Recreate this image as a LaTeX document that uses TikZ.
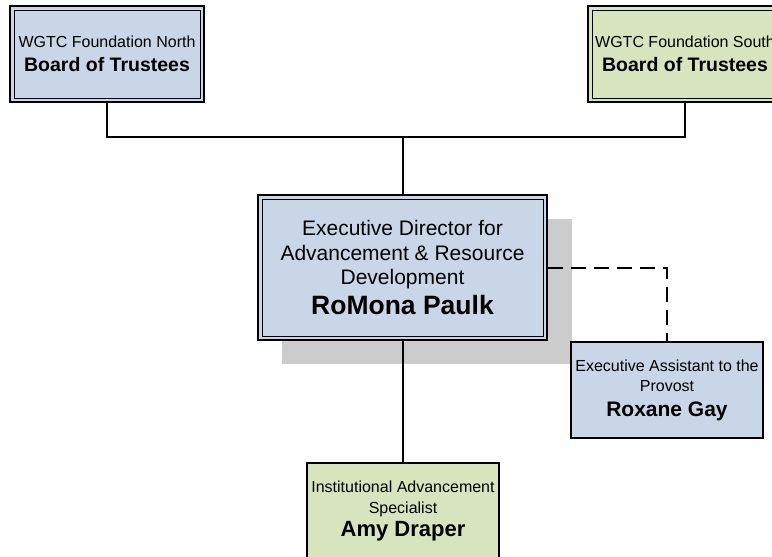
\documentclass[tikz,border=0pt]{standalone}
\usepackage{fontspec}
\setmainfont{Liberation Sans}
\definecolor{boxblue}{RGB}{201,214,231}
\definecolor{boxgreen}{RGB}{215,228,189}
\definecolor{shadowgray}{RGB}{204,204,204}
\tikzset{
  orgbox/.style={draw=black, line width=2pt, align=center, inner sep=0pt, text=black},
  dblbox/.style={orgbox, minimum width=194pt, minimum height=96pt},
  smbox/.style={orgbox, minimum width=192pt, minimum height=96pt},
  conn/.style={draw=black, line width=1.5pt},
  vconn/.style={draw=black, line width=2pt},
  dconn/.style={draw=black, line width=2pt, dash pattern=on 15pt off 8pt},
  inner/.style={draw=black, line width=1pt}
}
\begin{document}
\begin{tikzpicture}[x=1pt,y=-1pt]
\useasboundingbox (0,0) rectangle (772,557);
\clip (0,0) rectangle (772,557);
% shadow
\fill[shadowgray] (282,219) rectangle (572,364);
% boxes
\node[dblbox, fill=boxblue, font=\fontsize{16}{19}\selectfont] (north) at (107,54)
  {WGTC Foundation North\\[5pt]{\fontsize{19.5}{19.5}\selectfont\bfseries Board of Trustees}};
\draw[inner] ([shift={(5pt,-5pt)}]north.north west) rectangle ([shift={(-5pt,5pt)}]north.south east);
\node[dblbox, fill=boxgreen, font=\fontsize{16}{19}\selectfont] (south) at (685,54)
  {WGTC Foundation South\\[5pt]{\fontsize{19.5}{19.5}\selectfont\bfseries Board of Trustees}};
\draw[inner] ([shift={(5pt,-5pt)}]south.north west) rectangle ([shift={(-5pt,5pt)}]south.south east);
\node[orgbox, fill=boxblue, minimum width=289pt, minimum height=145pt, font=\fontsize{21}{24.5}\selectfont] (dir) at (402.5,267.5)
  {Executive Director for\\Advancement \& Resource\\Development\\[5pt]{\fontsize{26.5}{26.5}\selectfont\bfseries RoMona Paulk}};
\draw[inner] ([shift={(5pt,-5pt)}]dir.north west) rectangle ([shift={(-5pt,5pt)}]dir.south east);
\node[smbox, fill=boxblue, font=\fontsize{16}{20}\selectfont] (asst) at (667,390)
  {Executive Assistant to the\\Provost\\[5pt]{\fontsize{21}{21}\selectfont\bfseries Roxane Gay}};
\node[smbox, fill=boxgreen, font=\fontsize{16}{21}\selectfont] (amy) at (403,511)
  {Institutional Advancement\\Specialist\\[2pt]{\fontsize{22}{22}\selectfont\bfseries Amy Draper}};
% connectors
\coordinate (bus) at (402.5,137);
\draw[conn] (north.south) |- (bus) -| (south.south);
\draw[vconn] (bus) -- (dir.north);
\draw[vconn] (dir.south) -- (dir.south |- amy.north);
\draw[dconn] (dir.east) -| (asst.north);
\end{tikzpicture}
\end{document}
